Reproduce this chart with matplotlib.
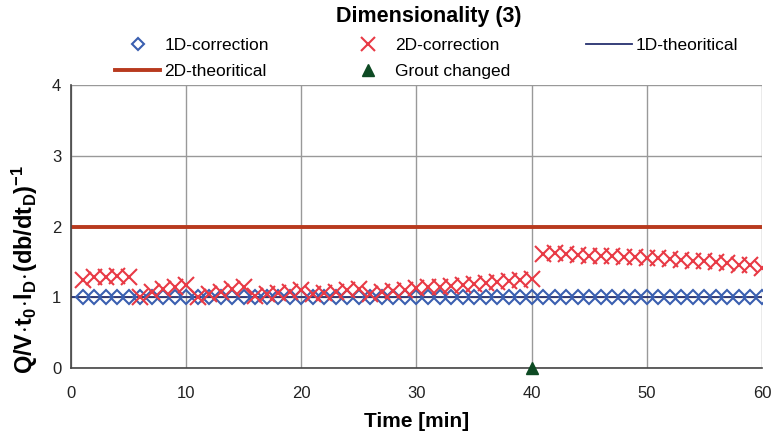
import numpy as np
import matplotlib.pyplot as plt

plt.rcParams['font.family'] = ['Liberation Sans', 'DejaVu Sans']
plt.rcParams['mathtext.fontset'] = 'custom'
plt.rcParams['mathtext.rm'] = 'Liberation Sans'
plt.rcParams['mathtext.bf'] = 'Liberation Sans:bold'

titulo = 'Dimensionality (3)'

tiempo = list(range(1, 61))
corr_1d = [1.0] * 60
corr_2d = [1.25, 1.28, 1.28, 1.30, 1.28,
           1.00, 1.07, 1.12, 1.14, 1.17,
           1.00, 1.05, 1.07, 1.12, 1.14,
           1.02, 1.04, 1.06, 1.08, 1.10,
           1.04, 1.06, 1.08, 1.10, 1.12,
           1.05, 1.07, 1.09, 1.11, 1.13,
           1.14, 1.15, 1.16, 1.18, 1.19,
           1.20, 1.22, 1.23, 1.24, 1.26,
           1.61, 1.62, 1.61, 1.60, 1.59,
           1.58, 1.58, 1.57, 1.57, 1.56,
           1.55, 1.54, 1.53, 1.52, 1.51,
           1.50, 1.48, 1.46, 1.45, 1.42]
teo_1d = 1.0
teo_2d = 2.0
grout_t = [40]
grout_y = [0]

c_1d = '#3a5fb0'
c_2d = '#e83a45'
c_t1 = '#26306e'
c_t2 = '#b83a1e'
c_gr = '#0d4a23'

fig = plt.figure(figsize=(7.72, 4.34), dpi=100)
ax = fig.add_axes([0.092, 0.152, 0.895, 0.652])

ax.axhline(teo_1d, color=c_t1, lw=1.3, zorder=2)
ax.axhline(teo_2d, color=c_t2, lw=2.8, zorder=2)
ax.plot(tiempo, corr_1d, linestyle='none', marker='D', ms=7.5, mfc='none',
        mec=c_1d, mew=1.5, zorder=3)
ax.plot(tiempo, corr_2d, linestyle='none', marker='x', ms=11, color=c_2d,
        mew=1.5, zorder=4)
ax.plot(grout_t, grout_y, linestyle='none', marker='^', ms=9, color=c_gr,
        clip_on=False, zorder=5)

ax.set_xlim(0, 60)
ax.set_ylim(0, 4)
ax.set_xticks(range(0, 61, 10))
ax.set_yticks(range(0, 5))
ax.grid(True, color='#999999', lw=1.0)
ax.set_axisbelow(True)
for s in ['top', 'right']:
    ax.spines[s].set_visible(False)
for s in ['left', 'bottom']:
    ax.spines[s].set_color('#444444')
    ax.spines[s].set_linewidth(1.2)
ax.tick_params(axis='x', length=0, labelsize=12, colors='#222222', pad=13)
ax.tick_params(axis='y', length=0, labelsize=12, colors='#222222', pad=7)

ax.set_xlabel('Time [min]', fontsize=15, fontweight='bold', labelpad=8)
ax.set_ylabel(r'$\mathbf{Q/V\!\cdot\! t_0\!\cdot\! l_D\!\cdot\!(db/dt_D)^{-1}}$', fontsize=17)
ax.yaxis.set_label_coords(-0.045, 0.35)

h1, = ax.plot([], [], linestyle='none', marker='D', ms=6.5, mfc='none', mec=c_1d, mew=1.5)
h2, = ax.plot([], [], linestyle='none', marker='x', ms=10, color=c_2d, mew=1.5)
h3, = ax.plot([], [], color=c_t1, lw=1.3)
h4, = ax.plot([], [], color=c_t2, lw=2.8)
h5, = ax.plot([], [], linestyle='none', marker='^', ms=8, color=c_gr)
fig.legend([h1, h4, h2, h5, h3],
           ['1D-correction', '2D-theoritical', '2D-correction', 'Grout changed', '1D-theoritical'],
           ncol=3, loc='upper left', bbox_to_anchor=(115 / 772, 1 - 38 / 434),
           frameon=False, fontsize=12.5, handlelength=2.6, handletextpad=0.25,
           columnspacing=4.4, labelspacing=0.6, borderpad=0, borderaxespad=0)

fig.text(0.556, 0.962, titulo, ha='center', va='center', fontsize=15.5, fontweight='bold')

plt.savefig('out.png', dpi=100)
